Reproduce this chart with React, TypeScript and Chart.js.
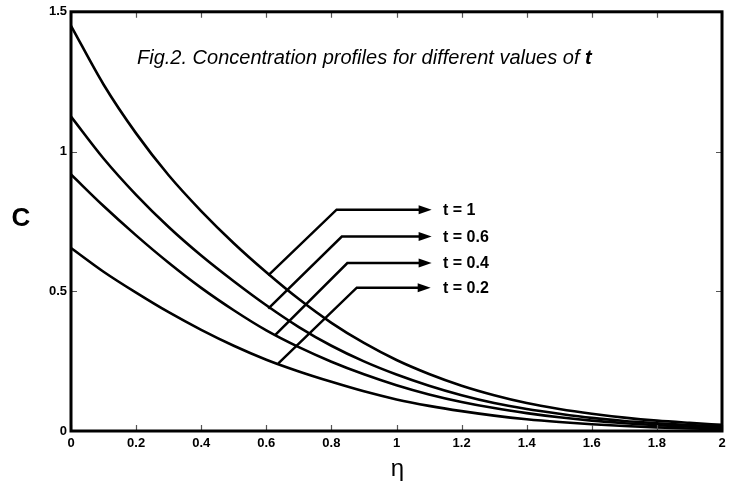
import React, { useEffect, useRef } from "react";
import { Chart, registerables } from "chart.js";

Chart.register(...registerables);

// ---- data ----
const ETA = [0, 0.1, 0.2, 0.3, 0.4, 0.5, 0.6, 0.7, 0.8, 0.9, 1.0, 1.1, 1.2, 1.3, 1.4, 1.5, 1.6, 1.7, 1.8, 1.9, 2.0];
const C_T1 = [1.45, 1.24, 1.065, 0.915, 0.787, 0.672, 0.568, 0.472, 0.387, 0.315, 0.254, 0.204, 0.162, 0.128, 0.1, 0.079, 0.062, 0.048, 0.037, 0.029, 0.022];
const C_T06 = [1.125, 0.975, 0.845, 0.73, 0.628, 0.536, 0.45, 0.372, 0.305, 0.249, 0.202, 0.162, 0.128, 0.1, 0.079, 0.062, 0.047, 0.036, 0.028, 0.021, 0.016];
const C_T04 = [0.918, 0.805, 0.7, 0.602, 0.512, 0.432, 0.36, 0.3, 0.248, 0.203, 0.164, 0.131, 0.104, 0.082, 0.064, 0.049, 0.037, 0.028, 0.021, 0.015, 0.011];
const C_T02 = [0.655, 0.57, 0.495, 0.425, 0.362, 0.305, 0.255, 0.213, 0.176, 0.142, 0.113, 0.09, 0.071, 0.055, 0.042, 0.032, 0.024, 0.018, 0.013, 0.009, 0.007];

const SERIES = [C_T1, C_T06, C_T04, C_T02];
const SERIES_LABELS = ["t = 1", "t = 0.6", "t = 0.4", "t = 0.2"];

const X_TICKS = [0, 0.2, 0.4, 0.6, 0.8, 1, 1.2, 1.4, 1.6, 1.8, 2];
const Y_TICKS = [0, 0.5, 1, 1.5];

// annotation leader lines (data coordinates: [eta, C])
const ARROW_START = [[0.606, 0.557], [0.606, 0.438], [0.627, 0.343], [0.637, 0.242]];
const ARROW_ELBOW = [[0.816, 0.792], [0.832, 0.696], [0.849, 0.601], [0.878, 0.513]];
const ARROW_TIP_X = [1.108, 1.108, 1.108, 1.105];
const LABEL_X = 1.143;

const TITLE_MAIN = "Fig.2. Concentration profiles for different values of ";
const TITLE_VAR = "t";
const X_TITLE = "η";
const Y_TITLE = "C";

const FONT = '"Liberation Sans", Arial, Helvetica, sans-serif';

const fmt = (v: number) => String(Number(v.toFixed(2)));

const decorPlugin = {
  id: "decor",
  afterDatasetsDraw(chart: any) {
    const { ctx, chartArea, scales } = chart;
    const xs = scales.x;
    const ys = scales.y;
    const { left, right, top, bottom } = chartArea;
    ctx.save();

    // inside tick marks
    ctx.strokeStyle = "#555";
    ctx.lineWidth = 1.2;
    const tl = 6;
    X_TICKS.forEach((v) => {
      const px = Math.round(xs.getPixelForValue(v)) + 0.5;
      ctx.beginPath();
      ctx.moveTo(px, bottom);
      ctx.lineTo(px, bottom - tl);
      ctx.moveTo(px, top);
      ctx.lineTo(px, top + tl);
      ctx.stroke();
    });
    Y_TICKS.forEach((v) => {
      const py = Math.round(ys.getPixelForValue(v)) + 0.5;
      ctx.beginPath();
      ctx.moveTo(left, py);
      ctx.lineTo(left + tl, py);
      ctx.moveTo(right, py);
      ctx.lineTo(right - tl, py);
      ctx.stroke();
    });

    // frame
    ctx.strokeStyle = "#000";
    ctx.lineWidth = 3;
    ctx.strokeRect(left, top, right - left, bottom - top);

    // leader lines with arrows
    ctx.lineWidth = 2.5;
    ctx.lineJoin = "miter";
    ctx.fillStyle = "#000";
    ctx.textBaseline = "middle";
    ctx.textAlign = "left";
    ctx.font = `bold 16px ${FONT}`;
    SERIES_LABELS.forEach((lab, i) => {
      const sx = xs.getPixelForValue(ARROW_START[i][0]);
      const sy = ys.getPixelForValue(ARROW_START[i][1]);
      const ex = xs.getPixelForValue(ARROW_ELBOW[i][0]);
      const ey = ys.getPixelForValue(ARROW_ELBOW[i][1]);
      const tx = xs.getPixelForValue(ARROW_TIP_X[i]);
      ctx.beginPath();
      ctx.moveTo(sx, sy);
      ctx.lineTo(ex, ey);
      ctx.lineTo(tx - 10, ey);
      ctx.stroke();
      ctx.beginPath();
      ctx.moveTo(tx, ey);
      ctx.lineTo(tx - 13, ey - 4.5);
      ctx.lineTo(tx - 13, ey + 4.5);
      ctx.closePath();
      ctx.fill();
      ctx.fillText(lab, xs.getPixelForValue(LABEL_X), ey + 1);
    });

    // title (italic, variable bold italic)
    ctx.textBaseline = "alphabetic";
    ctx.font = `italic 20px ${FONT}`;
    const tx0 = left + 66;
    const ty = top + 52;
    ctx.fillText(TITLE_MAIN, tx0, ty);
    const w = ctx.measureText(TITLE_MAIN).width;
    ctx.font = `italic bold 20px ${FONT}`;
    ctx.fillText(TITLE_VAR, tx0 + w, ty);

    // axis titles
    ctx.textAlign = "center";
    ctx.textBaseline = "middle";
    ctx.font = `bold 26px ${FONT}`;
    ctx.fillText(Y_TITLE, 21, ys.getPixelForValue(0.76));
    ctx.font = `24px ${FONT}`;
    ctx.fillText(X_TITLE, (left + right) / 2 + 1, bottom + 38);

    ctx.restore();
  },
};

export default function App() {
  const ref = useRef<HTMLCanvasElement | null>(null);
  useEffect(() => {
    if (!ref.current) return;
    const datasets = SERIES.map((arr, i) => ({
      label: SERIES_LABELS[i],
      data: ETA.map((e, j) => ({ x: e, y: arr[j] })),
      borderColor: "#000",
      borderWidth: 2.6,
      pointRadius: 0,
      fill: false,
      cubicInterpolationMode: "monotone" as const,
    }));
    const chart = new Chart(ref.current, {
      type: "line",
      data: { datasets },
      plugins: [decorPlugin],
      options: {
        animation: false,
        responsive: false,
        devicePixelRatio: 1,
        layout: { padding: { top: 11, right: 14, left: 0, bottom: 0 } },
        plugins: { legend: { display: false }, tooltip: { enabled: false }, title: { display: false } },
        scales: {
          x: {
            type: "linear",
            min: 0,
            max: 2,
            afterFit: (s: any) => {
              s.height = 55;
            },
            afterBuildTicks: (s: any) => {
              s.ticks = X_TICKS.map((v) => ({ value: v }));
            },
            grid: { display: false, drawTicks: false },
            border: { display: false },
            ticks: {
              padding: 5,
              color: "#000",
              font: { family: FONT, size: 13, weight: "bold" },
              callback: (v: any) => fmt(Number(v)),
              maxRotation: 0,
              autoSkip: false,
            },
          },
          y: {
            type: "linear",
            min: 0,
            max: 1.5,
            afterFit: (s: any) => {
              s.width = 71;
            },
            afterBuildTicks: (s: any) => {
              s.ticks = Y_TICKS.map((v) => ({ value: v }));
            },
            grid: { display: false, drawTicks: false },
            border: { display: false },
            ticks: {
              padding: 4,
              color: "#000",
              font: { family: FONT, size: 13, weight: "bold" },
              callback: (v: any) => fmt(Number(v)),
              autoSkip: false,
            },
          },
        },
      },
    });
    return () => chart.destroy();
  }, []);
  return (
    <div style={{ position: "fixed", left: 0, top: 0, width: 736, height: 486, background: "#fff" }}>
      <canvas ref={ref} width={736} height={486} style={{ display: "block", width: 736, height: 486 }} />
    </div>
  );
}
